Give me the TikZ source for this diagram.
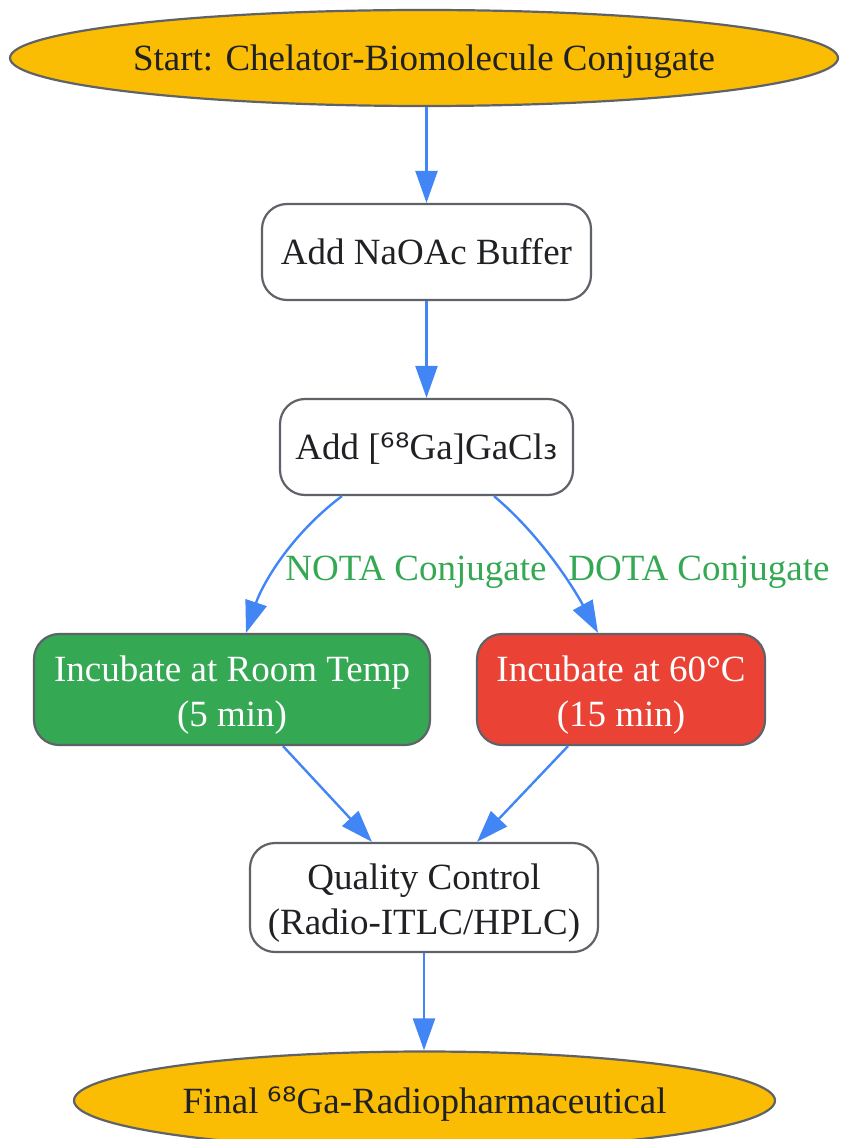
\documentclass[tikz,border=0pt]{standalone}
\usepackage{fontspec}
\setmainfont{Liberation Serif}
\newfontfamily\symf{DejaVu Sans}
\usetikzlibrary{arrows.meta,shapes.geometric,calc}
\definecolor{gyellow}{HTML}{FBBC04}
\definecolor{ggreen}{HTML}{34A853}
\definecolor{gred}{HTML}{EA4335}
\definecolor{gblue}{HTML}{4285F4}
\definecolor{bgray}{HTML}{5F6368}
\definecolor{txt}{HTML}{202124}
\newcommand{\supsx}{{\symf\fontsize{36}{45}\selectfont ⁶⁸}}
\newcommand{\subthree}{{\symf\fontsize{36}{45}\selectfont ₃}}
\newcommand{\mystrut}{\rule[-8pt]{0pt}{41pt}}
\newcommand{\tallstrut}{\rule[-8pt]{0pt}{45pt}}
\begin{document}
\begin{tikzpicture}[x=1pt,y=-1pt,
  base/.style={draw=bgray, line width=2.2pt, align=center, inner sep=0pt,
    font=\fontsize{37}{45}\selectfont, text=txt},
  boxnode/.style={base, rounded corners=25pt, fill=white},
  ellnode/.style={base, ellipse, fill=gyellow},
  arr/.style={draw=gblue, line width=2.4pt, -{Triangle[length=32pt,width=22pt]}},
  lbl/.style={text=ggreen, font=\fontsize{37}{45}\selectfont, inner sep=0pt}]
\useasboundingbox (0,0) rectangle (840,1139);
\node[ellnode, minimum width=828pt, minimum height=96pt] (start) at (424,58) {\mystrut Start: Chelator-Biomolecule Conjugate};
\node[boxnode, minimum width=329pt, minimum height=96pt] (buffer) at (426.5,252) {\mystrut Add NaOAc Buffer};
\node[boxnode, minimum width=293pt, minimum height=96pt] (ga) at (426.5,447) {\mystrut Add [\supsx Ga]GaCl\subthree};
\node[boxnode, fill=ggreen, text=white, minimum width=396pt, minimum height=111pt] (rt) at (232,689.5) {\tallstrut Incubate at Room Temp\\(5 min)\mystrut};
\node[boxnode, fill=gred, text=white, minimum width=288pt, minimum height=111pt] (sixty) at (621,689.5) {\tallstrut Incubate at 60°C\\(15 min)\mystrut};
\node[boxnode, minimum width=348pt, minimum height=109pt] (qc) at (424,897.5) {\tallstrut Quality Control\\(Radio-ITLC/HPLC)\mystrut};
\node[ellnode, minimum width=701pt, minimum height=98pt] (final) at (424.5,1100.5) {\mystrut Final \supsx Ga-Radiopharmaceutical};
\node[lbl] (lnota) at (416,568) {\mystrut NOTA Conjugate};
\node[lbl] (ldota) at (699,568) {\mystrut DOTA Conjugate};
\draw[arr] (start.south -| buffer.north) -- (buffer.north);
\draw[arr] (buffer.south) -- (buffer.south |- ga.north);
\draw[arr] ([xshift=-84.5pt]ga.south) .. controls (290,535) and (262,585) .. ([xshift=14pt]rt.north);
\draw[arr] ([xshift=67.5pt]ga.south) .. controls (540,535) and (572,585) .. ([xshift=-23pt]sixty.north);
\draw[arr] ([xshift=51pt]rt.south) -- ([xshift=-52pt]qc.north);
\draw[arr] ([xshift=-53pt]sixty.south) -- ([xshift=53pt]qc.north);
\draw[arr] (qc.south) -- (qc.south |- final.north);
\end{tikzpicture}
\end{document}
